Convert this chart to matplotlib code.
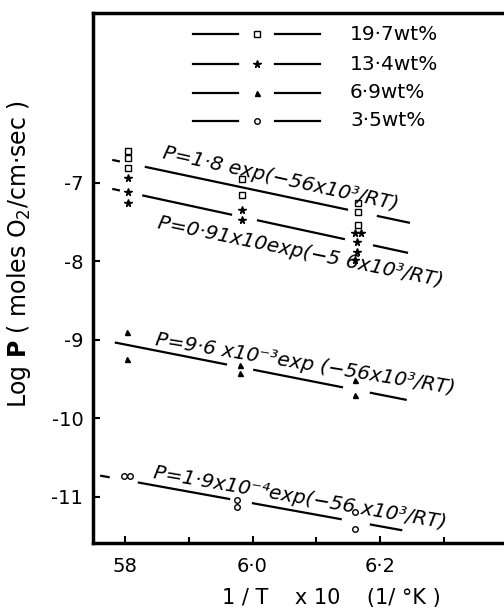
import numpy as np
import matplotlib
matplotlib.use("Agg")
import matplotlib.pyplot as plt

# ---------------- data ----------------
series_labels = ["19·7wt%", "13·4wt%", "6·9wt%", "3·5wt%"]
series_markers = ["s", "*", "^", "o"]

x_197 = [5.805, 5.805, 5.805, 5.984, 5.984, 6.165, 6.165, 6.165]
y_197 = [-6.59, -6.68, -6.81, -6.95, -7.15, -7.26, -7.37, -7.54]

x_134 = [5.805, 5.805, 5.805, 5.984, 5.984, 6.161, 6.170, 6.164, 6.164, 6.161]
y_134 = [-6.94, -7.11, -7.26, -7.34, -7.47, -7.64, -7.64, -7.75, -7.88, -7.98]

x_69 = [5.803, 5.803, 5.981, 5.981, 6.161, 6.161]
y_69 = [-8.90, -9.24, -9.32, -9.42, -9.51, -9.70]

x_35 = [5.798, 5.808, 5.976, 5.976, 6.161, 6.161]
y_35 = [-10.74, -10.74, -11.04, -11.13, -11.20, -11.41]

# fitted lines: values at fit_x ends
fit_x = [5.76, 6.25]
fit_197 = [-6.671, -7.514]
fit_134 = [-7.040, -7.902]
fit_69 = [-8.996, -9.780]
fit_35 = [-10.731, -11.452]

# drawn pieces of each fitted line (x ranges)
seg_197 = [(5.780, 5.792), (5.831, 6.150), (6.195, 6.247)]
seg_134 = [(5.780, 5.792), (5.827, 5.968), (6.007, 6.145), (6.189, 6.244)]
seg_69 = [(5.784, 5.960), (6.001, 6.142), (6.184, 6.242)]
seg_35 = [(5.761, 5.776), (5.820, 5.965), (5.999, 6.140), (6.184, 6.235)]

eq_texts = ["P=1·8 exp(−56x10³/RT)",
            "P=0·91x10exp(−5 6x10³/RT)",
            "P=9·6 x10⁻³exp (−56x10³/RT)",
            "P=1·9x10⁻⁴exp(−56 x10³/RT)"]

xticks_major = [5.8, 6.0, 6.2]
xtick_labels = ["58", "6·0", "6·2"]
xticks_minor = [5.9, 6.1, 6.3]
yticks = [-7, -8, -9, -10, -11]
ytick_labels = ["-7", "-8", "-9", "-10", "-11"]

# ---------------- figure ----------------
plt.rcParams['font.family'] = ['DejaVu Sans']
fig = plt.figure(figsize=(5.04, 6.15), dpi=100)
ax = fig.add_axes([93/504, 72/615, 411/504, 530/615])
ax.set_xlim(5.7498, 6.3945)
ax.set_ylim(-11.592, -4.832)

ms = {"s": 4.0, "*": 5.5, "^": 3.6, "o": 4.0}
pts = [(x_197, y_197), (x_134, y_134), (x_69, y_69), (x_35, y_35)]
for (xs, ys), m in zip(pts, series_markers):
    filled = m in ("*", "^")
    ax.plot(xs, ys, linestyle="none", marker=m, markersize=ms[m],
            markerfacecolor="black" if filled else "white",
            markeredgecolor="black", markeredgewidth=1.0)

fits = [fit_197, fit_134, fit_69, fit_35]
segs = [seg_197, seg_134, seg_69, seg_35]
for fy, sg in zip(fits, segs):
    for a, b in sg:
        xx = [a, b]
        yy = np.interp(xx, fit_x, fy)
        ax.plot(xx, yy, color="black", lw=1.6, solid_capstyle="butt")

# equation annotations
eq_pos = [(5.858, -6.68, -12.5), (5.850, -7.574, -11.6),
          (5.847, -9.066, -9.3), (5.844, -10.763, -9.8)]
for t, (tx, ty, rot) in zip(eq_texts, eq_pos):
    ax.text(tx, ty, t, fontsize=14.5, style="italic", rotation=rot,
            rotation_mode="anchor", ha="left", va="baseline")

# legend drawn manually
rows_py = [34, 64, 93, 121]
for py, m, lab in zip(rows_py, series_markers, series_labels):
    yf = (543 - py) / 530
    ax.plot([(193-93)/411, (238-93)/411], [yf, yf], transform=ax.transAxes,
            color="black", lw=1.6, clip_on=False)
    ax.plot([(275-93)/411, (320-93)/411], [yf, yf], transform=ax.transAxes,
            color="black", lw=1.6, clip_on=False)
    filled = m in ("*", "^")
    ax.plot([(257-93)/411], [yf], transform=ax.transAxes, marker=m,
            markersize=ms[m], markerfacecolor="black" if filled else "white",
            markeredgecolor="black", markeredgewidth=1.0, linestyle="none")
    ax.text((350-93)/411, yf, lab, transform=ax.transAxes, fontsize=14.5,
            ha="left", va="center")

# axes styling
for s in ["left", "bottom", "top"]:
    ax.spines[s].set_linewidth(2.5)
ax.spines["right"].set_visible(False)
ax.set_xticks(xticks_major)
ax.set_xticklabels(xtick_labels, fontsize=14)
ax.set_xticks(xticks_minor, minor=True)
ax.set_yticks(yticks)
ax.set_yticklabels(ytick_labels, fontsize=14)
ax.tick_params(axis="both", which="both", direction="in", width=1.5)
ax.tick_params(axis="both", which="major", length=5, pad=7)
ax.tick_params(axis="x", which="minor", length=4)
ax.tick_params(axis="x", which="major", pad=10)

ax.set_xlabel("1 / T    x 10    (1/ °K )", fontsize=15, va="center")
ax.xaxis.set_label_coords((331-93)/411, (543-598)/530)
ax.set_ylabel("Log $\\mathbf{P}$ ( moles O$_2$/cm·sec )", fontsize=17, va="center")
ax.yaxis.set_label_coords((19-93)/411, (543-254)/530)

fig.savefig("out.png", dpi=100)
